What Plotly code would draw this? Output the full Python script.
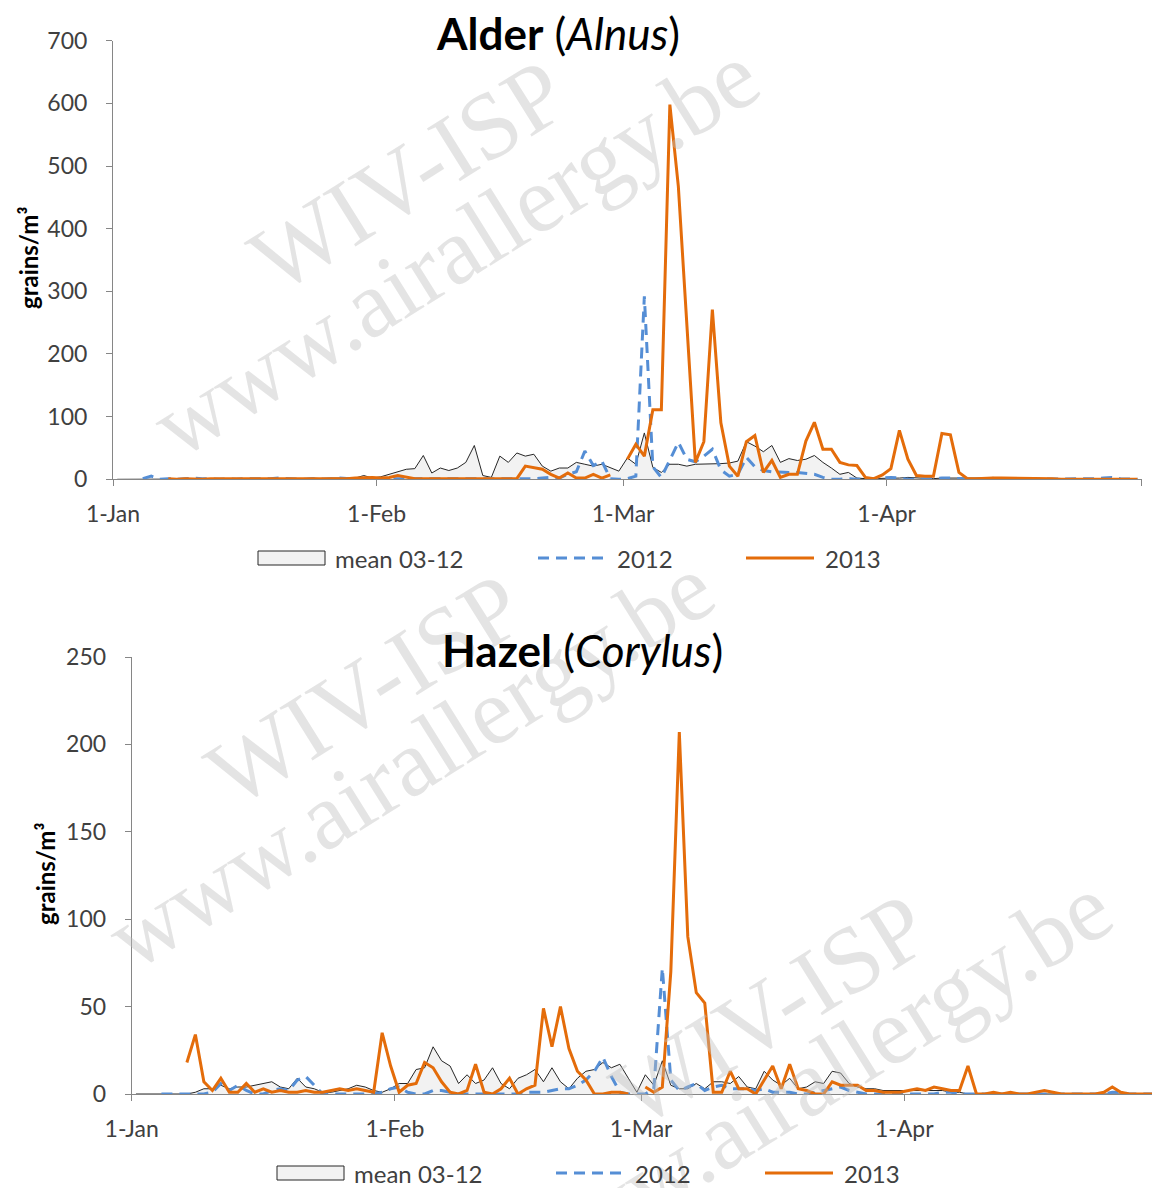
import pandas as pd
import plotly.graph_objects as go

N = None
# ---------------- data (daily values, 1 Jan .. 30 Apr, leap-year calendar) ----------------
month_ticks = ["2012-01-01", "2012-02-01", "2012-03-01", "2012-04-01", "2012-05-01"]
tick_labels = ["1-Jan", "1-Feb", "1-Mar", "1-Apr", ""]

alder_mean = (
    [0, 0, 0, 0, 1, 0, 0, 1, 0, 0, 1, 1, 0, 0, 1, 1, 0, 1, 1, 0, 1, 1, 1, 2, 1, 2, 2, 3, 2, 6, 2]
    + [4, 8, 13, 16, 17, 38, 10, 18, 14, 18, 27, 54, 6, 3, 37, 27, 42, 37, 40, 21, 13, 18, 18, 27, 24, 21, 24, 19, 13]
    + [34, 24, 74, 19, 11, 24, 24, 21, 24, 24, 25, 25, 26, 29, 60, 53, 44, 54, 27, 33, 30, 32, 38, 27, 18, 8, 11, 2, 1, 1, 2]
    + [2, 2, 3, 2, 2, 1, 2, 2, 1, 2, 1, 2, 3, 2, 1, 1, 0, 1, 0, 0, 1, 0, 0, 0, 1, 0, 0, 0, 0, 0]
)
alder_2012 = (
    [N, N, N, 1, 5, 0, 1, 0, 1, 2, 1, 0, 0, 1, 0, 1, 1, 0, 1, 2, 1, 0, 0, 1, 0, 0, 2, 1, 0, 0, 1]
    + [1, 0, 1, 0, 0, 1, 0, 0, 0, 1, 0, 0, 0, 0, 0, 0, 0, 0, 1, 2, 3, 2, 8, 12, 45, 22, 29, 1, 0]
    + [1, 5, 292, 20, 3, 30, 59, 32, 28, 37, 48, 15, 5, 8, 35, 20, 14, 12, 11, 11, 11, 10, 8, 3, 0, 0, 1, 0, 0, 1, 2]
    + [3, 2, 0, 0, 1, 1, 2, 2, 1, 0, 0, 1, 0, 0, 0, 0, 0, 0, 0, 0, 0, 0, 0, 0, 1, 2, 3, 1, 0, 0]
)
alder_2013 = (
    [N, N, N, N, N, N, 1, 0, 1, 0, 0, 1, 1, 0, 0, 1, 0, 0, 1, 0, 0, 0, 1, 0, 0, 1, 0, 1, 2, 3, 3]
    + [2, 3, 6, 3, 1, 1, 1, 0, 1, 1, 1, 0, 0, 1, 1, 1, 1, 21, 19, 16, 8, 2, 10, 2, 2, 8, 2, 7, N]
    + [32, 56, 37, 111, 111, 598, 467, 250, 27, 60, 271, 90, 21, 5, 60, 70, 11, 30, 3, 8, 8, 61, 91, 48, 48, 27, 23, 22, 3, 1, 7]
    + [17, 78, 32, 6, 5, 5, 73, 71, 11, 1, 1, 2, 2, 2, 2, 1, 2, 1, 1, 1, 0, 0, 1, 0, 0, 0, 0, 0, 0, 0]
)

hazel_mean = (
    [0, 0, 0, 0, 0, 0, 0, 1, 3, 3, 5, 3, 4, 4, 5, 6, 7, 4, 3, 9, 4, 3, 1, 1, 2, 3, 5, 4, 2, 1, 3]
    + [6, 6, 14, 15, 27, 19, 16, 6, 11, 6, 8, 15, 6, 3, 9, 11, 14, 7, 15, 7, 3, 9, 13, 14, 18, 15, 17, 9, 1]
    + [11, 5, 19, 5, 3, 3, 6, 3, 7, 7, 6, 10, 4, 3, 13, 8, 5, 9, 3, 4, 7, 6, 13, 12, 6, 4, 3, 3, 2, 2, 2]
    + [2, 2, 2, 2, 2, 1, 1, 0, 0, 0, 0, 0, 0, 0, 0, 0, 0, 0, 0, 0, 0, 0, 0, 0, 0, 0, 0, 0, 0, 0]
)
hazel_2012 = (
    [N, N, N, 0, 0, 0, 0, 0, 0, 1, 6, 2, 5, 2, 0, 0, 2, 3, 2, 8, 10, 5, 0, 0, 0, 0, 0, 0, 0, 1, 3]
    + [4, 1, 0, 0, 2, 2, 1, 0, 0, 0, 0, 0, 0, 0, 0, 1, 1, 1, 2, 3, 3, 5, 8, 13, 21, 10, 1, 0, 0]
    + [0, 3, 72, 8, 2, 4, 6, 2, 4, 5, 3, 3, 3, 2, 3, 1, 1, 1, 0, 0, 1, 2, 3, 4, 2, 1, 0, 0, 0, 0, 0]
    + [0, 0, 0, 0, 1, 1, 0, 0, 0, 0, 0, 0, 0, 0, 0, 0, 0, 0, 0, 0, 0, 0, 0, 0, 1, 1, 0, 0, 0, 0]
)
hazel_2013 = (
    [N, N, N, N, N, N, 18, 34, 7, 2, 9, 1, 1, 6, 1, 3, 1, 2, 1, 1, 2, 1, 1, 2, 3, 2, 3, 2, 1, 35, 16]
    + [1, 5, 6, 18, 15, 7, 1, 0, 2, 17, 1, 0, 3, 9, 0, 3, 5, 49, 27, 50, 26, 13, 8, 0, 0, 1, 1, 0, N]
    + [4, 1, 4, 70, 207, 90, 58, 52, 1, 1, 13, 3, 3, 0, 8, 16, 3, 17, 3, 2, 0, 0, 7, 5, 5, 5, 2, 2, 1, 1, 1]
    + [2, 3, 2, 4, 3, 2, 2, 16, 0, 0, 1, 0, 1, 0, 0, 1, 2, 1, 0, 0, 0, 0, 0, 1, 4, 1, 0, 0, 0, 0]
)

series_names = ["mean 03-12", "2012", "2013"]
# ------------------------------------------------------------------------------------------

days = pd.date_range("2012-01-01 12:00", periods=121, freq="D")

# the page body adds an 8px margin; the figure fills the rest of the 1160x1188 window
OFF = 8
W, H = 1160 - OFF, 1188 - OFF
def px(x):
    return (x - OFF) / W
def py(y):
    return 1 - (y - OFF) / H

MEAN_FILL = "#f2f2f2"
MEAN_LINE = "#262626"
BLUE = "#558ED5"
ORANGE = "#E46C0A"
AXIS = "#868686"
TXT = "#404040"
FONT = "Lato"

fig = go.Figure()

def add_panel(mean, y2012, y2013, xa, ya):
    fig.add_trace(go.Scatter(x=days, y=mean, mode="lines", name=series_names[0],
                             line=dict(color=MEAN_LINE, width=1), fill="tozeroy",
                             fillcolor=MEAN_FILL, xaxis=xa, yaxis=ya, showlegend=False))
    fig.add_trace(go.Scatter(x=days, y=y2012, mode="lines", name=series_names[1],
                             line=dict(color=BLUE, width=3, dash="11px,7px"),
                             xaxis=xa, yaxis=ya, showlegend=False))
    fig.add_trace(go.Scatter(x=days, y=y2013, mode="lines", name=series_names[2],
                             line=dict(color=ORANGE, width=3), connectgaps=False,
                             xaxis=xa, yaxis=ya, showlegend=False))

add_panel(alder_mean, alder_2012, alder_2013, "x", "y")
add_panel(hazel_mean, hazel_2012, hazel_2013, "x2", "y2")

xcommon = dict(type="date", range=[month_ticks[0], month_ticks[-1]], tickvals=month_ticks,
               ticktext=tick_labels, ticks="outside", ticklen=6, tickcolor=AXIS,
               showline=True, linecolor=AXIS, linewidth=1, showgrid=False, zeroline=False,
               automargin=False,
               tickfont=dict(family=FONT, size=23, color=TXT), ticklabelstandoff=8)
ycommon = dict(ticks="outside", ticklen=6, tickcolor=AXIS, showline=True, linecolor=AXIS,
               linewidth=1, showgrid=False, zeroline=False, automargin=False,
               tickfont=dict(family=FONT, size=23, color=TXT), ticklabelstandoff=14)

fig.update_layout(
    template="none",
    width=W, height=H, margin=dict(l=0, r=0, t=0, b=0, pad=0, autoexpand=False),
    paper_bgcolor="white", plot_bgcolor="white", showlegend=False,
    xaxis=dict(domain=[px(113), px(1141.7)], anchor="y", **xcommon),
    yaxis=dict(domain=[py(479.3), py(40.7)], range=[0, 700], dtick=100, anchor="x", **ycommon),
    xaxis2=dict(domain=[px(131.7), min(1.0, px(1159))], anchor="y2", **xcommon),
    yaxis2=dict(domain=[py(1094), py(657)], range=[0, 250], dtick=50, anchor="x2", **ycommon),
)

ann = []
# watermarks
WM = dict(family="Liberation Serif", size=95, color="rgba(190,190,190,0.42)")
for (cx, cy, txt) in [(408, 176, "WIV-ISP"), (455, 250, "www.airallergy.be"),
                      (365, 690, "WIV-ISP"), (410, 762, "www.airallergy.be"),
                      (770, 1010, "WIV-ISP"), (808, 1082, "www.airallergy.be")]:
    ann.append(dict(x=px(cx), y=py(cy), xref="paper", yref="paper", text=txt, showarrow=False,
                    textangle=-32, font=WM, xanchor="center", yanchor="middle"))

# titles
ann.append(dict(x=px(558), y=py(33), xref="paper", yref="paper", showarrow=False,
                text="<b>Alder</b> (<i>Alnus</i>)", font=dict(family=FONT, size=44, color="black"),
                xanchor="center", yanchor="middle"))
ann.append(dict(x=px(582), y=py(650), xref="paper", yref="paper", showarrow=False,
                text="<b>Hazel</b> (<i>Corylus</i>)", font=dict(family=FONT, size=44, color="black"),
                xanchor="center", yanchor="middle"))
# y-axis titles
for (cx, cy) in [(28, 258), (45, 874)]:
    ann.append(dict(x=px(cx), y=py(cy), xref="paper", yref="paper", showarrow=False,
                    text="<b>grains/m³</b>", textangle=-90,
                    font=dict(family=FONT, size=24, color="black"),
                    xanchor="center", yanchor="middle"))

shapes = []
# hand-made legends (one per panel)
for (ly, xs) in [(558, (258, 538, 746)), (1173, (277, 556, 765))]:
    x0, x1, x2 = xs
    shapes.append(dict(type="rect", xref="paper", yref="paper", x0=px(x0), x1=px(x0 + 67),
                       y0=py(ly + 7), y1=py(ly - 7), fillcolor=MEAN_FILL,
                       line=dict(color=MEAN_LINE, width=1)))
    shapes.append(dict(type="line", xref="paper", yref="paper", x0=px(x1), x1=px(x1 + 68),
                       y0=py(ly), y1=py(ly), line=dict(color=BLUE, width=3, dash="11px,7px")))
    shapes.append(dict(type="line", xref="paper", yref="paper", x0=px(x2), x1=px(x2 + 68),
                       y0=py(ly), y1=py(ly), line=dict(color=ORANGE, width=3)))
    for (tx, name) in [(x0 + 75, series_names[0]), (x1 + 77, series_names[1]), (x2 + 77, series_names[2])]:
        ann.append(dict(x=px(tx), y=py(ly), xref="paper", yref="paper", showarrow=False,
                        text=name, font=dict(family=FONT, size=24, color=TXT),
                        xanchor="left", yanchor="middle"))

fig.update_layout(annotations=ann, shapes=shapes)
fig.write_html("out.html")
